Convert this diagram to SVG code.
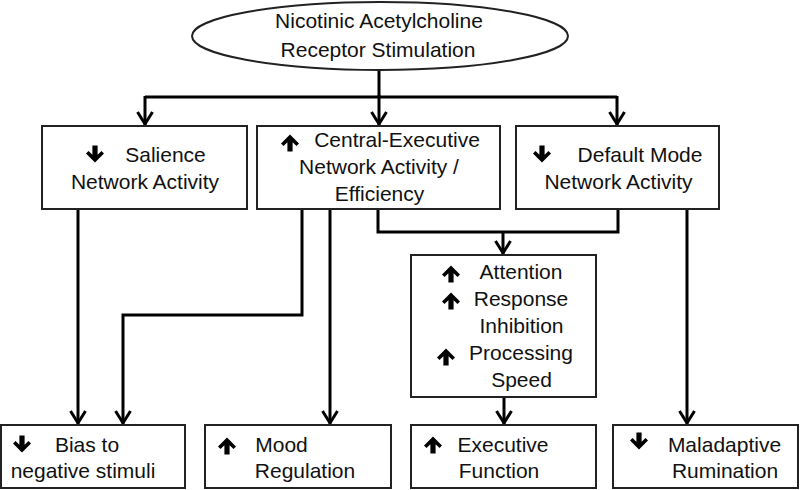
<svg xmlns="http://www.w3.org/2000/svg" width="800" height="490" viewBox="0 0 800 490">
<style>
.box{fill:#fff;stroke:#222;stroke-width:2}
.t{font-family:"Liberation Sans",Arial,sans-serif;font-size:21px;fill:#111;text-anchor:middle}
.c{fill:none;stroke:#000;stroke-width:3;stroke-linejoin:miter}
.ca{fill:none;stroke:#000;stroke-width:3;marker-end:url(#ah)}
</style>
<defs>
<marker id="ah" markerUnits="userSpaceOnUse" markerWidth="30" markerHeight="30" viewBox="-15 -15 30 30" refX="0" refY="0" orient="auto" overflow="visible">
<path d="M-13,-7.5 L-1,0 L-13,7.5" fill="none" stroke="#000" stroke-width="3"/>
</marker>
<path id="up" d="M0,-8.5 L9,0.5 L6.5,3 L2.6,-0.8 L2.6,8.5 L-2.6,8.5 L-2.6,-0.8 L-6.5,3 L-9,0.5 Z" fill="#000"/>
</defs>
<g id="connectors">
<path class="c" d="M379,70 V97"/>
<path class="c" d="M145,97 H617"/>
<path class="ca" d="M379,95 V125"/>
<path class="ca" d="M145,96 V125"/>
<path class="ca" d="M617,96 V125"/>
<path class="ca" d="M78,209 V424"/>
<path class="ca" d="M302,209 V315 H123 V424"/>
<path class="ca" d="M330,209 V424"/>
<path class="c" d="M378,209 V232 H618 V209"/>
<path class="ca" d="M503,232 V254"/>
<path class="ca" d="M504,397 V424"/>
<path class="ca" d="M687,209 V424"/>
</g>
<g id="nAChR">
<ellipse class="box" cx="380" cy="36" rx="188" ry="34"/>
<text class="t" x="379" y="28">Nicotinic Acetylcholine</text>
<text class="t" x="378" y="57">Receptor Stimulation</text>
</g>
<g id="salience">
<rect class="box" x="42" y="126" width="205" height="83"/>
<use href="#up" transform="translate(95,154) rotate(180)"/>
<text class="t" x="165.5" y="162">Salience</text>
<text class="t" x="145" y="189">Network Activity</text>
</g>
<g id="cen">
<rect class="box" x="257" y="126" width="243" height="83"/>
<use href="#up" transform="translate(290,143)"/>
<text class="t" x="397" y="147">Central-Executive</text>
<text class="t" x="379" y="174">Network Activity /</text>
<text class="t" x="379.5" y="201">Efficiency</text>
</g>
<g id="dmn">
<rect class="box" x="516" y="126" width="203" height="83"/>
<use href="#up" transform="translate(542,154) rotate(180)"/>
<text class="t" x="640" y="162">Default Mode</text>
<text class="t" x="618.5" y="189">Network Activity</text>
</g>
<g id="cognition">
<rect class="box" x="411" y="255" width="185" height="142"/>
<use href="#up" transform="translate(451,274)"/>
<text class="t" x="521" y="279">Attention</text>
<use href="#up" transform="translate(451,301)"/>
<text class="t" x="521" y="306">Response</text>
<text class="t" x="521.5" y="333">Inhibition</text>
<use href="#up" transform="translate(446,357)"/>
<text class="t" x="521" y="360">Processing</text>
<text class="t" x="521.5" y="387">Speed</text>
</g>
<g id="bias">
<rect class="box" x="1" y="425" width="184" height="63"/>
<use href="#up" transform="translate(22,444) rotate(180)"/>
<text class="t" x="87" y="452">Bias to</text>
<text class="t" x="83" y="478">negative stimuli</text>
</g>
<g id="mood">
<rect class="box" x="205" y="425" width="186" height="63"/>
<use href="#up" transform="translate(227,446)"/>
<text class="t" x="281.5" y="452">Mood</text>
<text class="t" x="305" y="478">Regulation</text>
</g>
<g id="executive">
<rect class="box" x="411" y="425" width="185" height="63"/>
<use href="#up" transform="translate(433,445)"/>
<text class="t" x="503" y="452">Executive</text>
<text class="t" x="499" y="478">Function</text>
</g>
<g id="rumination">
<rect class="box" x="613" y="425" width="185" height="63"/>
<use href="#up" transform="translate(639,441) rotate(180)"/>
<text class="t" x="724.5" y="452">Maladaptive</text>
<text class="t" x="725" y="478">Rumination</text>
</g>
</svg>
